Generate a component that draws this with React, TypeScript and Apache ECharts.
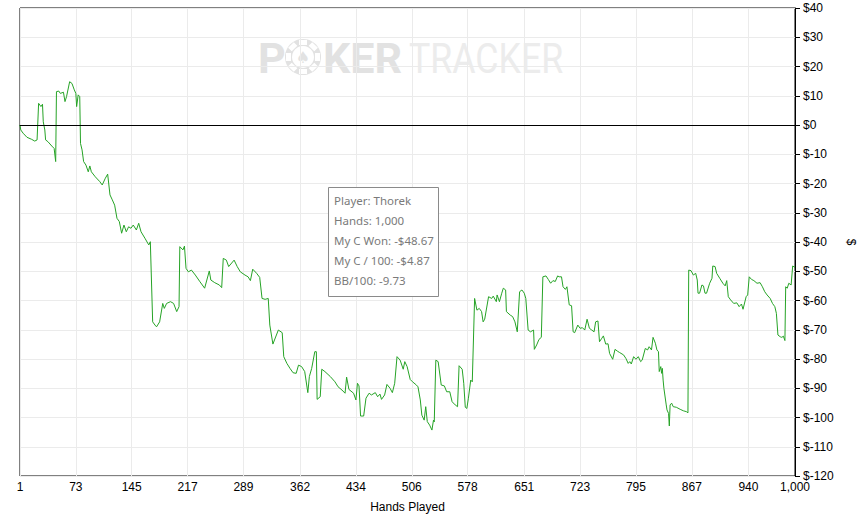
import React, { useEffect, useRef } from "react";
import * as echarts from "echarts";

// Hand number (x) and cumulative amount won in $ (y)
const hands = [
  1, 2, 5, 10, 16, 20, 23, 25, 28, 30, 31, 33, 34, 37, 42, 45, 47, 48, 51, 53,
  57, 59, 61, 65, 68, 71, 73, 74, 76, 78, 79, 81, 83, 86, 89, 91, 93, 98, 104, 107,
  111, 114, 117, 120, 123, 126, 129, 132, 135, 138, 141, 144, 147, 151, 154, 157, 162, 167, 169, 172,
  175, 177, 181, 185, 187, 190, 195, 199, 203, 206, 207, 211, 213, 215, 218, 222, 227, 233, 239, 245,
  247, 252, 258, 261, 263, 267, 270, 277, 281, 285, 291, 295, 298, 301, 306, 310, 313, 317, 321, 323,
  327, 334, 339, 341, 345, 349, 353, 357, 360, 364, 368, 372, 374, 377, 381, 383, 384, 388, 390, 394,
  401, 407, 411, 416, 420, 422, 425, 431, 434, 436, 438, 440, 444, 447, 451, 454, 459, 462, 465, 467,
  471, 474, 478, 481, 484, 487, 491, 495, 497, 500, 504, 507, 512, 514, 517, 519, 522, 524, 526, 529,
  532, 534, 535, 537, 540, 544, 548, 551, 555, 558, 562, 565, 567, 571, 573, 575, 577, 579, 582, 584,
  587, 590, 593, 596, 598, 600, 605, 609, 611, 615, 616, 619, 622, 624, 627, 628, 633, 636, 639, 642,
  645, 648, 651, 653, 656, 659, 663, 664, 667, 670, 673, 675, 679, 682, 685, 688, 691, 694, 696, 699,
  701, 704, 706, 709, 712, 714, 716, 720, 723, 726, 729, 732, 735, 738, 741, 743, 746, 748, 751, 753,
  756, 759, 761, 765, 768, 771, 774, 779, 782, 785, 787, 789, 792, 795, 798, 801, 803, 807, 810, 812,
  815, 817, 820, 822, 824, 825, 827, 828, 829, 830, 831, 834, 835, 837, 838, 839, 841, 843, 847, 852,
  856, 860, 862, 863, 866, 869, 872, 874, 875, 877, 880, 882, 884, 886, 890, 893, 894, 897, 899, 903,
  907, 910, 912, 914, 917, 921, 925, 928, 931, 933, 937, 939, 941, 944, 947, 951, 955, 958, 961, 964,
  968, 971, 974, 976, 978, 981, 983, 985, 987, 988, 990, 992, 995, 997, 1000,
];
const cumulativeWon = [
  0, -1.7, -2.8, -4.2, -4.9, -5.5, -5.1, 7.4, 6.3, 7.1, 1.1, -1.7, -5.1, -5.7, -7.2, -8, -12.5, 11.4, 11.6, 10.8,
  11.2, 8, 9.7, 14.8, 14.2, 12, 10.8, 6.3, 10.3, 9.7, -6.3, -8.5, -12.5, -13.7, -16, -14, -16, -17.7, -19.4, -20.5,
  -18.2, -16.8, -23.9, -25.6, -27.4, -31.9, -33, -37, -34.2, -36.5, -34.8, -35.3, -34.2, -35.9, -33.6, -36.5, -38.7, -41, -39.9, -67.3,
  -68.4, -69, -67.3, -61, -62.7, -61, -60.4, -61, -63.8, -62.1, -41.6, -42.7, -41.4, -49, -50.2, -49.6, -51.3, -53.6, -55.8, -49.9,
  -53, -53.9, -54.7, -55.6, -45.6, -46.2, -48.4, -46.2, -48.4, -50.2, -51.3, -51.9, -53.2, -49.3, -50.7, -52.1, -59.3, -59.6, -59.3, -68.4,
  -74.9, -70.1, -71, -79.2, -81.5, -83.2, -84.7, -84.9, -82.1, -82.6, -84.3, -91.5, -86, -83.2, -77.5, -77.5, -93.8, -92.9, -83.5, -84.3,
  -86, -87.8, -89.5, -90.6, -91.7, -86.2, -90.4, -91.7, -94, -88.3, -89.2, -99.5, -99.5, -93.4, -91.7, -92.3, -91.5, -92.9, -92, -93.8,
  -92.3, -88.7, -90, -91.5, -88.3, -79.2, -80.4, -83.5, -80.9, -82.6, -87, -87.8, -88.9, -89.5, -94, -99.2, -100.9, -96.3, -101.4, -102.6,
  -104.3, -100.9, -101.5, -80.4, -80.9, -88.9, -89.2, -91.2, -91.2, -94.6, -95.7, -96.3, -82.3, -83.5, -88.3, -96.5, -96.9, -93.4, -87.2, -87.8,
  -59.3, -63.3, -62.7, -63.8, -67.3, -66.4, -58.7, -59.3, -58.5, -60.4, -58.1, -60.4, -57.5, -55.8, -56.4, -63.8, -65, -65.5, -67.3, -70.7,
  -57, -56.4, -57.5, -59.3, -70.1, -70.7, -70.1, -76.7, -75.2, -73.3, -72.6, -51.9, -51.6, -52.8, -54.1, -53.2, -53.5, -51.6, -51.9, -51.9,
  -55.3, -56.2, -55.3, -61.5, -61.8, -70.7, -71, -68.4, -69.5, -69.3, -70.1, -66.4, -69.5, -70.1, -70.7, -67.3, -67, -74.1, -72.9, -72.1,
  -74.9, -74.8, -78.1, -80.1, -76.7, -77.3, -77.8, -78.6, -79.8, -81.5, -80.9, -81.7, -79.2, -80.1, -79.2, -80.9, -80.4, -76.4, -76.9, -75.8,
  -76.9, -72.6, -74.6, -76.9, -77.5, -84.3, -82.6, -84.9, -83.2, -87.2, -90, -95.7, -97.4, -98.6, -102.9, -95.7, -95.1, -96.3, -96.5, -97.2,
  -97.7, -98, -98.4, -49.6, -49.8, -51.3, -50.7, -53, -57.5, -57.5, -54.7, -55, -57.5, -57.5, -54.1, -52.4, -48.2, -48.4, -50.7, -52.4,
  -54.1, -55, -53.2, -58.7, -59.8, -61, -60.8, -62.1, -61.2, -63, -58.7, -58.1, -51.9, -52.8, -53.2, -54.1, -53.9, -55.3, -57, -58.1,
  -59.3, -61, -62.1, -64.4, -71.8, -72.4, -72.6, -72.2, -73.7, -55.3, -55.8, -54.1, -54.7, -48.2, -48.67,
];

const xTickHands = [1, 73, 145, 217, 289, 362, 434, 506, 578, 651, 723, 795, 867, 940, 1000];
const yAxisMin = -120;
const yAxisMax = 40;
const yAxisStep = 10;

const xAxisTitle = "Hands Played";
const yAxisTitle = "$";
const statsLines = [
  "Player: Thorek",
  "Hands: 1,000",
  "My C Won: -$48.67",
  "My C / 100: -$4.87",
  "BB/100: -9.73",
];
const watermarkBold = ["P", "KER"];
const watermarkLight = "TRACKER";

const LINE_COLOR = "#26a326";
const GRID_COLOR = "#ebebeb";
const AXIS_FONT = "'Liberation Sans', Arial, sans-serif";

function chipGraphic(cx: number, cy: number) {
  const notches = [0, 45, 90, 135, 180, 225, 270, 315].map((deg) => {
    const a = (deg * Math.PI) / 180;
    return {
      type: "rect",
      x: cx + Math.cos(a) * 14.5,
      y: cy + Math.sin(a) * 14.5,
      rotation: -a,
      shape: { x: -2.5, y: -4, width: 5, height: 8 },
      style: { fill: "#fff" },
      silent: true,
    };
  });
  return [
    { type: "circle", shape: { cx, cy, r: 18 }, style: { fill: "#e2e2e2" }, silent: true },
    ...notches,
    { type: "circle", shape: { cx, cy, r: 11 }, style: { fill: "#fff" }, silent: true },
    {
      type: "text",
      x: cx,
      y: cy,
      style: {
        text: "\u2660",
        fill: "#e2e2e2",
        font: "16px 'DejaVu Sans'",
        align: "center",
        verticalAlign: "middle",
      },
      silent: true,
    },
  ];
}

export default function App() {
  const ref = useRef<HTMLDivElement>(null);

  useEffect(() => {
    if (!ref.current) return;
    const chart = echarts.init(ref.current, null, { renderer: "svg" });
    const seriesData = hands.map((h, i) => [h, cumulativeWon[i]]);

    const statsX = 334;
    const statsTop = 200;

    chart.setOption({
      animation: false,
      backgroundColor: "#fff",
      grid: {
        left: 20,
        right: 65,
        top: 8,
        bottom: 40,
        outerBoundsMode: "none",
        containLabel: false,
        show: true,
        borderColor: "#000",
        borderWidth: 1,
        backgroundColor: "transparent",
      },
      xAxis: {
        type: "value",
        min: 1,
        max: 1000,
        name: xAxisTitle,
        nameLocation: "middle",
        nameGap: 25,
        nameTextStyle: { color: "#000", fontSize: 12, fontFamily: AXIS_FONT },
        axisLine: { show: true, lineStyle: { color: "#000", width: 1 } },
        axisTick: { show: false, customValues: xTickHands },
        axisLabel: {
          customValues: xTickHands,
          color: "#000",
          fontSize: 12,
          fontFamily: AXIS_FONT,
          margin: 5,
          formatter: (v: number) => Number(v).toLocaleString("en-US"),
        },
        splitLine: { show: true, lineStyle: { color: GRID_COLOR, width: 1 } },
      },
      yAxis: {
        type: "value",
        position: "right",
        min: yAxisMin,
        max: yAxisMax,
        interval: yAxisStep,
        name: yAxisTitle,
        nameLocation: "middle",
        nameGap: 48,
        nameRotate: -90,
        nameTextStyle: { color: "#000", fontSize: 12, fontFamily: AXIS_FONT },
        axisLine: { show: true, lineStyle: { color: "#000", width: 1 } },
        axisTick: { show: true, length: 5, lineStyle: { color: "#000" } },
        axisLabel: {
          color: "#000",
          fontSize: 12,
          fontFamily: AXIS_FONT,
          margin: 8,
          formatter: (v: number) => "$" + v,
        },
        splitLine: { show: true, lineStyle: { color: GRID_COLOR, width: 1 } },
      },
      graphic: [
        {
          type: "text",
          x: 258,
          y: 58,
          style: {
            text: watermarkBold[0],
            fill: "#e2e2e2",
            font: "bold 43px Roboto",
            verticalAlign: "middle",
          },
          silent: true,
          z: 0,
        },
        ...chipGraphic(303, 57),
        {
          type: "text",
          x: 323,
          y: 58,
          style: {
            text: watermarkBold[1],
            fill: "#e2e2e2",
            font: "bold 43px Roboto",
            verticalAlign: "middle",
          },
          silent: true,
        },
        {
          type: "text",
          x: 409,
          y: 58,
          scaleX: 0.83,
          style: {
            text: watermarkLight,
            fill: "#ececec",
            font: "43px Roboto",
            verticalAlign: "middle",
          },
          silent: true,
        },
        {
          type: "rect",
          shape: { x: 328.5, y: 187.5, width: 110, height: 109 },
          style: { fill: "#fff", stroke: "#8a8a8a", lineWidth: 1 },
          silent: true,
          z: 10,
        },
        ...statsLines.map((t, i) => ({
          type: "text",
          x: statsX,
          y: statsTop + i * 20,
          z: 11,
          style: {
            text: t,
            fill: "#7a7a7a",
            font: "11.5px 'Noto Sans'",
            verticalAlign: "middle",
          },
          silent: true,
        })),
      ],
      series: [
        {
          type: "line",
          data: seriesData,
          showSymbol: false,
          symbol: "none",
          lineStyle: { color: LINE_COLOR, width: 1 },
          z: 3,
          markLine: {
            silent: true,
            symbol: "none",
            label: { show: false },
            lineStyle: { color: "#000", width: 1, type: "solid" },
            data: [{ yAxis: 0 }],
          },
        },
      ],
    });

    return () => chart.dispose();
  }, []);

  return (
    <div
      ref={ref}
      style={{ position: "fixed", left: 0, top: 0, width: 860, height: 516 }}
    />
  );
}
